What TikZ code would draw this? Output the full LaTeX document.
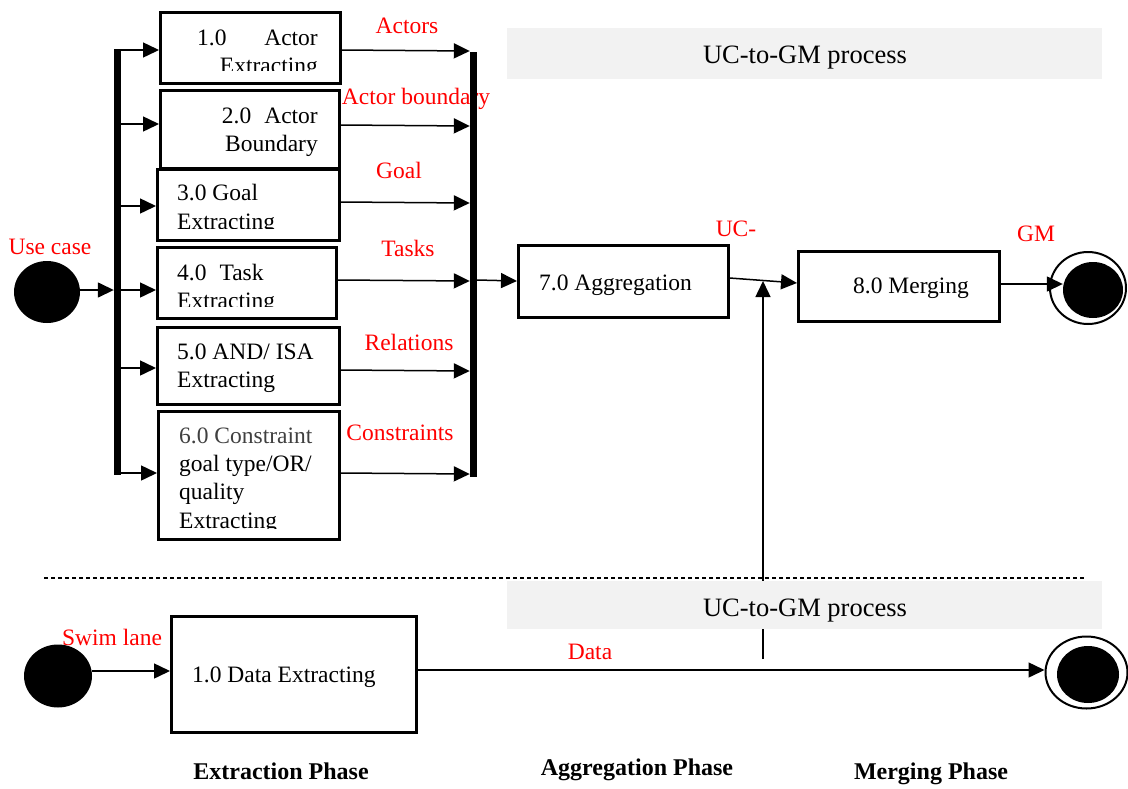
\documentclass[tikz,border=0pt]{standalone}
\usepackage{fontspec}
\setmainfont{Liberation Serif}
\usetikzlibrary{arrows.meta,shapes.geometric}

\begin{document}
\begin{tikzpicture}[x=1pt,y=-1pt,
  box/.style={draw, line width=2.6pt, rectangle, inner sep=0pt, anchor=north west},
  arr/.style={line width=1.5pt, -{Triangle[length=16pt,width=15pt]}},
  txt/.style={font=\fontsize{23.5}{28}\selectfont, inner sep=0pt},
  lbl/.style={txt, text=red},
  phase/.style={font=\fontsize{24}{28}\selectfont\bfseries, inner sep=0pt},
  banner/.style={fill=black!5, inner sep=0pt, anchor=north west},
  bannertext/.style={font=\fontsize{26.5}{30}\selectfont, inner sep=0pt, anchor=base},
  bar/.style={fill=black, inner sep=0pt, minimum width=7pt},
  dot/.style={ellipse, fill=black, inner sep=0pt},
  ring/.style={ellipse, draw, line width=2pt, fill=white, inner sep=0pt},
]
\useasboundingbox (0,0) rectangle (1128,788);

% ---- process boxes of the extraction phase
\node[box, minimum width=180pt, minimum height=71pt]  (b1) at (159,11)  {};
\node[box, minimum width=179pt, minimum height=78pt]  (b2) at (159,89)  {};
\node[box, minimum width=182pt, minimum height=71pt]  (b3) at (156,168) {};
\node[box, minimum width=179pt, minimum height=71pt]  (b4) at (156,246) {};
\node[box, minimum width=182pt, minimum height=77pt]  (b5) at (156,326) {};
\node[box, minimum width=181pt, minimum height=128pt] (b6) at (157,410) {};

% box texts (some lines are cut off by the box frame)
\begin{scope}
  \clip (161,13) rectangle (337,70);
  \node[txt, anchor=base west] (t1a) at (197,45) {1.0};
  \node[txt, anchor=base east] (t1b) at (318,45) {Actor};
  \node[txt, anchor=base east] (t1c) at (318,73) {Extracting};
\end{scope}
\node[txt, anchor=base east] (t2a) at (318,123) {2.0\hspace{13pt}Actor};
\node[txt, anchor=base east] (t2b) at (318,151) {Boundary};
\begin{scope}
  \clip (158,170) rectangle (336,228);
  \node[txt, anchor=base west] (t3a) at (177,200) {3.0 Goal};
  \node[txt, anchor=base west] (t3b) at (177,229) {Extracting};
\end{scope}
\begin{scope}
  \clip (158,248) rectangle (333,306);
  \node[txt, anchor=base west] (t4a) at (177,280) {4.0\hspace{13pt}Task};
  \node[txt, anchor=base west] (t4b) at (177,308) {Extracting};
\end{scope}
\node[txt, anchor=base west] (t5a) at (177,359) {5.0 AND/ ISA};
\node[txt, anchor=base west] (t5b) at (177,387) {Extracting};
\begin{scope}
  \clip (159,412) rectangle (336,528);
  \node[txt, anchor=base west, text=black!75] (t6a) at (179,443) {6.0 Constraint};
  \node[txt, anchor=base west] (t6b) at (179,471) {goal type/OR/};
  \node[txt, anchor=base west] (t6c) at (179,499) {quality};
  \node[txt, anchor=base west] (t6d) at (179,528) {Extracting};
\end{scope}

% ---- aggregation and merging
\node[box, minimum width=210pt, minimum height=72pt] (b7) at (517,244) {};
\node[txt, anchor=base west] (t7) at (539,290) {7.0 Aggregation};
\node[box, minimum width=201pt, minimum height=70pt] (b8) at (797,250) {};
\node[txt, anchor=base west] (t8) at (853,293) {8.0 Merging};

% ---- swim lane
\node[box, minimum width=245pt, minimum height=116pt] (bd) at (170,615) {};
\node[txt, anchor=base west] (td) at (192,682) {1.0 Data Extracting};

% ---- start and end states
\node[dot, minimum width=66pt, minimum height=62pt] (s1) at (47,292) {};
\node[dot, minimum width=68pt, minimum height=63pt] (s2) at (58,676) {};
\node[ring, minimum width=76pt, minimum height=72pt] (e1o) at (1088,288) {};
\node[dot, minimum width=60pt, minimum height=56pt]  (e1i) at (1093,290) {};
\node[ring, minimum width=82pt, minimum height=72pt] (e2o) at (1086.5,672.5) {};
\node[dot, minimum width=62pt, minimum height=57pt]  (e2i) at (1088,674.5) {};

% ---- red data-flow labels
\node[lbl] (lac) at (407,26)  {Actors};
\node[lbl] (lab) at (416,99)  {Actor boundary};
\node[lbl] (lgo) at (399,170) {Goal};
\node[lbl] (lta) at (408,248) {Tasks};
\node[lbl] (lre) at (409,342) {Relations};
\node[lbl] (lco) at (400,433) {Constraints};
\node[lbl] (luc) at (736,229) {UC-};
\node[lbl] (lgm) at (1036,234) {GM};
\node[lbl] (lus) at (50,247)  {Use case};
\node[lbl] (lsw) at (112,637) {Swim lane};
\node[lbl] (lda) at (590,652) {Data};

% ---- fork and join bars
\node[bar, minimum height=426pt] (barL) at (117.5,262) {};
\node[bar, minimum height=425pt] (barR) at (473.5,264.5) {};

% ---- connectors
\draw[arr] (s1.east |- 0,290) -- (barL.west |- 0,290);
\draw[arr] (barL.east |- 0,50)  -- (b1.west |- 0,50);
\draw[arr] (barL.east |- 0,124) -- (b2.west |- 0,124);
\draw[arr] (barL.east |- 0,206) -- (b3.west |- 0,206);
\draw[arr] (barL.east |- 0,290) -- (b4.west |- 0,290);
\draw[arr] (barL.east |- 0,368) -- (b5.west |- 0,368);
\draw[arr] (barL.east |- 0,473) -- (b6.west |- 0,473);

\draw[arr] (b1.east |- 0,50)  -- (barR.west |- 0,51);
\draw[arr] (b2.east |- 0,125) -- (barR.west |- 0,126);
\draw[arr] (b3.east |- 0,202) -- (barR.west |- 0,203);
\draw[arr] (b4.east |- 0,280) -- (barR.west |- 0,281);
\draw[arr] (b5.east |- 0,370) -- (barR.west |- 0,371);
\draw[arr] (b6.east |- 0,473) -- (barR.west |- 0,474);

\draw[arr] (barR.east |- 0,280) -- (b7.west |- 0,281);
\draw[arr] (b7.east |- 0,278) -- (b8.west |- 0,283);
\draw[arr] (b8.east |- 0,284) -- (e1i.west |- 0,284);

\coordinate (vbot) at (763,659);
\coordinate (vtop) at (763,281);
\draw[arr] (vbot) -- (vtop);

\draw[arr] (s2.east |- 0,671) -- (bd.west |- 0,671);
\draw[arr] (bd.east |- 0,670) -- (e2o.west |- 0,670);

% ---- lane separator
\coordinate (dl) at (44,578);
\coordinate (dr) at (1085,578);
\draw[line width=1.2pt, dash pattern=on 4pt off 3pt] (dl) -- (dr);

% ---- process banners
\node[banner, minimum width=595pt, minimum height=51pt] (ban1) at (507,28) {};
\node[bannertext] (ban1t) at (805,63) {UC-to-GM process};
\node[banner, minimum width=595pt, minimum height=48pt] (ban2) at (507,581) {};
\node[bannertext] (ban2t) at (805,616) {UC-to-GM process};

% ---- phase captions
\node[phase] (p1) at (281,771) {Extraction Phase};
\node[phase] (p2) at (637,770) {Aggregation Phase};
\node[phase] (p3) at (931,774) {Merging Phase};
\end{tikzpicture}
\end{document}
